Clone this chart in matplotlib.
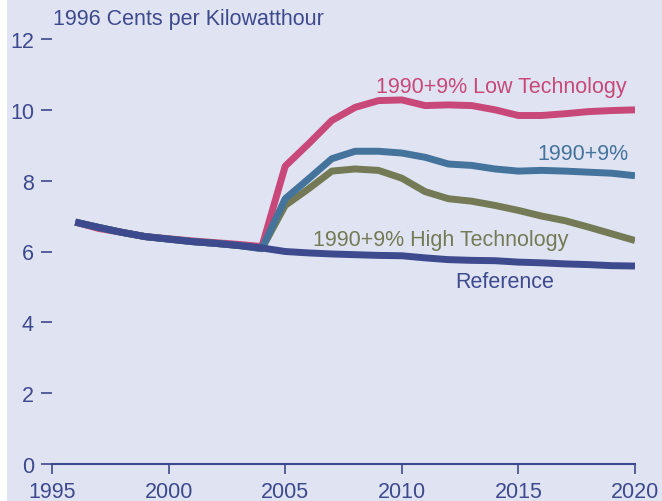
import matplotlib
matplotlib.use("Agg")
import matplotlib.pyplot as plt
from matplotlib.patches import Rectangle

plt.rcParams['font.family'] = ['Liberation Sans', 'DejaVu Sans']

years = list(range(1996, 2021))
reference = [6.83, 6.68, 6.54, 6.42, 6.35, 6.28, 6.23, 6.17, 6.10, 6.00, 5.96, 5.93, 5.91, 5.89, 5.88, 5.82, 5.77, 5.75, 5.74, 5.70, 5.68, 5.65, 5.63, 5.60, 5.59]
low_tech = [6.83, 6.65, 6.54, 6.42, 6.36, 6.30, 6.25, 6.20, 6.14, 8.41, 9.04, 9.70, 10.07, 10.26, 10.28, 10.12, 10.14, 10.12, 10.00, 9.84, 9.84, 9.89, 9.95, 9.98, 10.00]
base_9 = [6.83, 6.68, 6.54, 6.42, 6.35, 6.28, 6.23, 6.17, 6.08, 7.49, 8.05, 8.62, 8.83, 8.83, 8.78, 8.66, 8.47, 8.43, 8.33, 8.27, 8.29, 8.27, 8.24, 8.21, 8.14]
high_tech = [6.83, 6.68, 6.54, 6.42, 6.35, 6.28, 6.23, 6.17, 6.08, 7.30, 7.77, 8.27, 8.33, 8.29, 8.07, 7.69, 7.49, 7.42, 7.30, 7.16, 7.00, 6.87, 6.69, 6.50, 6.31]

x_ticks = [1995, 2000, 2005, 2010, 2015, 2020]
y_ticks = [0, 2, 4, 6, 8, 10, 12]

navy = '#3D4A8E'
pink = '#C8487A'
steel = '#44739C'
olive = '#737A55'
bg = '#E0E4F2'

fig = plt.figure(figsize=(6.62, 5.02), dpi=100)
fig.patch.set_facecolor('white')
fig.patches.append(Rectangle((7/662, 0), 1, 1, transform=fig.transFigure, facecolor=bg, edgecolor='none', zorder=-10))

ax = fig.add_axes([52/662, 37/502, 583/662, 425/502])
ax.set_facecolor('none')

lw = 5.0
ax.plot(years, low_tech, color=pink, lw=lw, solid_capstyle='butt', zorder=2)
ax.plot(years, high_tech, color=olive, lw=lw, solid_capstyle='butt', zorder=3)
ax.plot(years, base_9, color=steel, lw=lw, solid_capstyle='butt', zorder=4)
ax.plot(years, reference, color=navy, lw=lw, solid_capstyle='butt', zorder=5)

ax.set_xlim(1995, 2020)
ax.set_ylim(0, 12)
ax.set_xticks(x_ticks)
ax.set_yticks(y_ticks)
ax.tick_params(axis='both', colors=navy, labelcolor=navy, labelsize=15.5, width=1.2, length=7, direction='out')
ax.tick_params(axis='x', pad=5)
ax.tick_params(axis='y', pad=5, length=8)

for s in ['top', 'right', 'left']:
    ax.spines[s].set_visible(False)
ax.spines['bottom'].set_color(navy)
ax.spines['bottom'].set_linewidth(1.5)

fs = 15.5
ax.text(1995.05, 12.57, '1996 Cents per Kilowatthour', color=navy, fontsize=fs, ha='left', va='center', clip_on=False)
ax.text(2014.27, 10.66, '1990+9% Low Technology', color=pink, fontsize=fs, ha='center', va='center')
ax.text(2017.75, 8.78, '1990+9%', color=steel, fontsize=fs, ha='center', va='center')
ax.text(2011.65, 6.35, '1990+9% High Technology', color=olive, fontsize=fs, ha='center', va='center')
ax.text(2014.4, 5.16, 'Reference', color=navy, fontsize=fs, ha='center', va='center')

fig.savefig('out.png', dpi=100, facecolor=fig.get_facecolor())
